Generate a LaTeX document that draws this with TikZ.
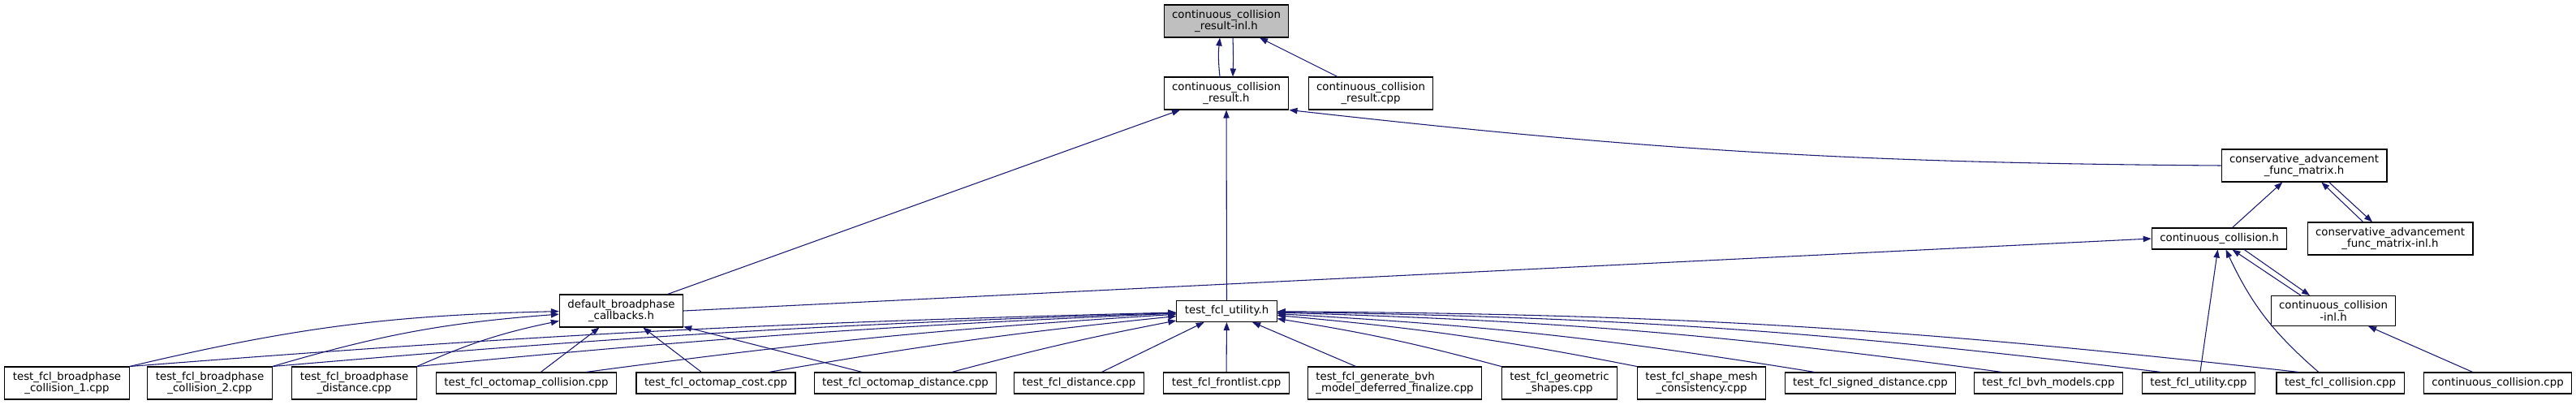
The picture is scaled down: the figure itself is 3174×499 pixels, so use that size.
\documentclass[tikz,border=0pt]{standalone}
\usepackage{fontspec}
\setmainfont{DejaVu Sans}
\usetikzlibrary{arrows.meta}
\definecolor{edgeblue}{RGB}{25,25,112}

\begin{document}
\begin{tikzpicture}[
  x=0.75pt, y=-0.75pt,
  file/.style={
    rectangle,
    draw=black, fill=white,
    line width=0.8pt, align=center,
    inner xsep=7.5pt, inner ysep=4.5pt,
    minimum height=19.5pt,
    font=\fontsize{10}{11}\selectfont
  },
  current/.style={file, fill=black!25}, % the file this graph is about
  incl/.style={
    draw=edgeblue, line width=0.8pt,
    -{Triangle[length=7.5pt,width=5.5pt]}
  }
]
\useasboundingbox (0,0) rectangle (3174,499);

% upper ranks
\node [current] (ccrinl) at (1511,26) {continuous\_collision\\\_result-inl.h};
\node [file] (ccrh) at (1511,115) {continuous\_collision\\\_result.h};
\node [file] (ccrcpp) at (1689,115) {continuous\_collision\\\_result.cpp};
\node [file] (cafmh) at (2839,204) {conservative\_advancement\\\_func\_matrix.h};
\node [file] (cch) at (2734.5,294) {continuous\_collision.h};
\node [file] (cafminl) at (2945,294) {conservative\_advancement\\\_func\_matrix-inl.h};
\node [file] (ccinl) at (2875,383) {continuous\_collision\\-inl.h};
\node [file] (dbc) at (765.5,383) {default\_broadphase\\\_callbacks.h};
\node [file] (utilh) at (1511.5,383.5) {test\_fcl\_utility.h};

% bottom rank
\node [file] (bpc1) at (82.5,472) {test\_fcl\_broadphase\\\_collision\_1.cpp};
\node [file] (bpc2) at (258.5,472) {test\_fcl\_broadphase\\\_collision\_2.cpp};
\node [file] (bpd) at (436.5,472) {test\_fcl\_broadphase\\\_distance.cpp};
\node [file] (omcoll) at (648.5,472) {test\_fcl\_octomap\_collision.cpp};
\node [file] (omcost) at (882,472) {test\_fcl\_octomap\_cost.cpp};
\node [file] (omdist) at (1115.5,472) {test\_fcl\_octomap\_distance.cpp};
\node [file] (dist) at (1329.5,472) {test\_fcl\_distance.cpp};
\node [file] (front) at (1511,472) {test\_fcl\_frontlist.cpp};
\node [file, align=left] (genbvh) at (1718.5,472) {test\_fcl\_generate\_bvh\\\_model\_deferred\_finalize.cpp};
\node [file] (geom) at (1921.5,472) {test\_fcl\_geometric\\\_shapes.cpp};
\node [file] (smc) at (2096.5,472) {test\_fcl\_shape\_mesh\\\_consistency.cpp};
\node [file] (sdist) at (2304.5,472) {test\_fcl\_signed\_distance.cpp};
\node [file] (bvhm) at (2524,472) {test\_fcl\_bvh\_models.cpp};
\node [file] (utilcpp) at (2709,472) {test\_fcl\_utility.cpp};
\node [file] (coll) at (2883.5,472) {test\_fcl\_collision.cpp};
\node [file] (cccpp) at (3077.5,472) {continuous\_collision.cpp};

% includes, upper part
\draw [incl] ([xshift=-6pt]ccrh.north) to[bend left=6] ([xshift=-6pt]ccrinl.south);
\draw [incl] ([xshift=6pt]ccrinl.south) to[bend left=2] ([xshift=6pt]ccrh.north);
\draw [incl] (ccrcpp) -- (ccrinl);
\draw [incl] (dbc) -- (ccrh);
\draw [incl] (utilh) -- (ccrh);
\draw [incl] (cafmh.west) to[bend left=3] (ccrh.south east);
\draw [incl] ([xshift=12pt]cch.north) -- ([xshift=-20pt]cafmh.south);
\draw [incl] ([xshift=-25pt]cafminl.north) -- ([xshift=16pt]cafmh.south);
\draw [incl] ([xshift=23pt]cafmh.south) -- ([xshift=-16.5pt]cafminl.north);
\draw [incl] (dbc.east) -- (cch.west);
\draw [incl] ([xshift=-30pt]ccinl.north) -- ([xshift=12pt]cch.south);
\draw [incl] ([xshift=23pt]cch.south) -- ([xshift=-21.75pt]ccinl.north);
\draw [incl] (utilcpp) -- (cch);
\draw [incl] ([xshift=-20pt]coll.north) to[bend left=12] ([xshift=6pt]cch.south);
\draw [incl] (cccpp) -- (ccinl);

% includes of default_broadphase_callbacks.h
\foreach \src in {bpc1,bpc2,bpd}
  \draw [incl] (\src.north east) to[bend left=6] (dbc);
\foreach \src in {omcoll,omcost,omdist}
  \draw [incl] (\src) -- (dbc);

% includes of test_fcl_utility.h
\foreach \src in {bpc1,bpc2,bpd}
  \draw [incl] (\src.north east) to[bend left=1.5] (utilh);
\draw [incl] ([xshift=55pt]omcoll.north) to[bend left=2] (utilh);
\draw [incl] ([xshift=49pt]omcost.north) to[bend left=2] (utilh);
\draw [incl] ([xshift=43pt]omdist.north) to[bend left=2] (utilh);
\foreach \src in {dist,front,genbvh}
  \draw [incl] (\src) -- (utilh);
\foreach \src/\dx in {geom/0,smc/0,sdist/28,bvhm/26,utilcpp/18,coll/21}
  \draw [incl] ([xshift=\dx pt]\src.north west) to[bend right=3] (utilh);
\end{tikzpicture}
\end{document}
